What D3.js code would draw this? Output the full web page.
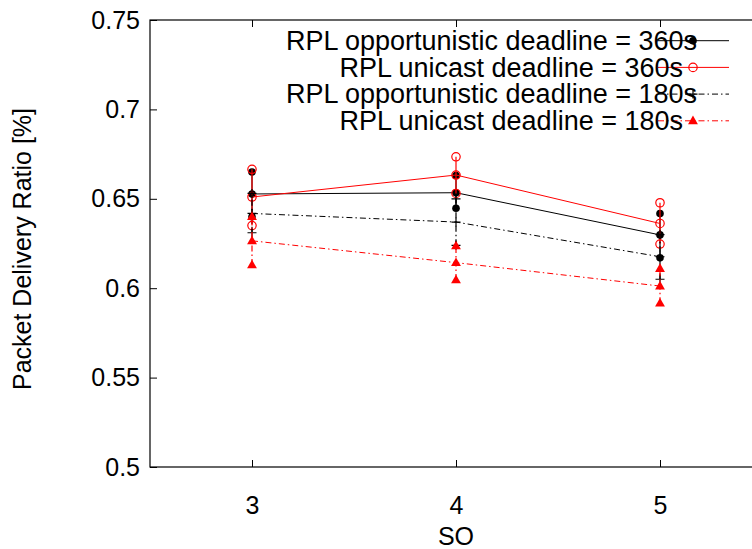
<!DOCTYPE html>
<html>
<head>
<meta charset="utf-8">
<script src="https://cdn.jsdelivr.net/npm/d3@7/dist/d3.min.js"></script>
<style>
  body { margin: 0; background: #fff; }
  svg { display: block; font-family: "Liberation Sans", Arial, Helvetica, sans-serif; }
</style>
</head>
<body>
<script>
// SO values on the x axis
let so = [3, 4, 5];

// packet delivery ratio: [low, mean, high] per SO value
let oppDl360 = [[0.640, 0.6527, 0.665], [0.6447, 0.6534, 0.663], [0.617, 0.6298, 0.6418]];
let uniDl360 = [[0.635, 0.651, 0.6665], [0.653, 0.6633, 0.6735], [0.6247, 0.6362, 0.6478]];
let oppDl180 = [[0.631, 0.6418, 0.653], [0.624, 0.637, 0.650], [0.605, 0.6176, 0.630]];
let uniDl180 = [[0.613, 0.6265, 0.640], [0.6046, 0.6143, 0.6236], [0.5916, 0.6012, 0.611]];

let seriesNames = ['RPL opportunistic deadline = 360s', 'RPL unicast deadline = 360s',
                   'RPL opportunistic deadline = 180s', 'RPL unicast deadline = 180s'];

let yTicks = [0.5, 0.55, 0.6, 0.65, 0.7, 0.75];
let yTickLabels = ['0.5', '0.55', '0.6', '0.65', '0.7', '0.75'];
let xTicks = [3, 4, 5];
let xTickLabels = ['3', '4', '5'];

let width = 752, height = 549;
let plotLeft = 150, plotRight = 762, plotTop = 20, plotBottom = 467;

let x = d3.scaleLinear().domain([2.5, 5.5]).range([plotLeft, plotRight]);
let y = d3.scaleLinear().domain([0.5, 0.75]).range([plotBottom, plotTop]);

let svg = d3.select('body').append('svg')
            .attr('width', width)
            .attr('height', height);

// frame
svg.append('rect')
   .attr('x', plotLeft).attr('y', plotTop)
   .attr('width', plotRight - plotLeft).attr('height', plotBottom - plotTop)
   .attr('fill', 'none').attr('stroke', '#000').attr('stroke-width', 1.2);

let fontSize = 25;

let yAxis = d3.axisLeft(y).tickValues(yTicks).tickSize(-7).tickPadding(10)
              .tickFormat((d, i) => yTickLabels[i]);
let xAxis = d3.axisBottom(x).tickValues(xTicks).tickSize(-7).tickPadding(29)
              .tickFormat((d, i) => xTickLabels[i]);

svg.append('g').attr('transform', 'translate(' + plotLeft + ',0)').call(yAxis);
svg.append('g').attr('transform', 'translate(0,' + plotBottom + ')').call(xAxis);
svg.append('g').attr('transform', 'translate(0,' + plotTop + ')')
   .call(d3.axisTop(x).tickValues(xTicks).tickSize(-7).tickFormat(''));
svg.append('g').attr('transform', 'translate(' + plotRight + ',0)')
   .call(d3.axisRight(y).tickValues(yTicks).tickSize(-7).tickFormat(''));

svg.selectAll('.domain').remove();
svg.selectAll('.tick line').attr('stroke', '#000');
svg.selectAll('.tick text')
   .attr('font-family', '"Liberation Sans", Arial, sans-serif')
   .attr('font-size', fontSize)
   .attr('fill', '#000');

// axis titles
svg.append('text')
   .attr('x', (plotLeft + plotRight) / 2).attr('y', 545)
   .attr('text-anchor', 'middle')
   .attr('font-size', fontSize)
   .text('SO');

svg.append('text')
   .attr('transform', 'translate(31,249) rotate(-90)')
   .attr('text-anchor', 'middle')
   .attr('font-size', fontSize)
   .text('Packet Delivery Ratio [%]');

// series
let styles = [
  { color: '#000', dash: null, marker: 'dot' },
  { color: '#f00', dash: null, marker: 'ring' },
  { color: '#000', dash: '6,3,1.5,3', marker: 'plus' },
  { color: '#f00', dash: '6,3,1.5,3', marker: 'tri' }
];
let allSeries = [oppDl360, uniDl360, oppDl180, uniDl180];

function drawMarker(g, kind, cx, cy, color) {
  if (kind === 'dot') {
    g.append('circle').attr('cx', cx).attr('cy', cy).attr('r', 3.8).attr('fill', color);
  } else if (kind === 'ring') {
    g.append('circle').attr('cx', cx).attr('cy', cy).attr('r', 4.2)
     .attr('fill', 'none').attr('stroke', color).attr('stroke-width', 1.2);
  } else if (kind === 'plus') {
    g.append('path').attr('d', 'M' + (cx - 4.5) + ',' + cy + 'H' + (cx + 4.5) + 'M' + cx + ',' + (cy - 4.5) + 'V' + (cy + 4.5))
     .attr('stroke', color).attr('stroke-width', 1.2);
  } else {
    g.append('path').attr('d', d3.symbol(d3.symbolTriangle, 42)())
     .attr('transform', 'translate(' + cx + ',' + (cy + 0.5) + ')')
     .attr('fill', color);
  }
}

let line = d3.line()
             .x((d, i) => x(so[i]))
             .y((d) => y(d[1]));

allSeries.forEach((data, s) => {
  let st = styles[s];
  let g = svg.append('g');
  g.append('path')
   .attr('d', line(data))
   .attr('fill', 'none')
   .attr('stroke', st.color)
   .attr('stroke-width', 1)
   .attr('stroke-dasharray', st.dash);
  g.selectAll('line.err')
   .data(data)
   .enter()
   .append('line')
   .attr('class', 'err')
   .attr('x1', (d, i) => x(so[i])).attr('x2', (d, i) => x(so[i]))
   .attr('y1', (d) => y(d[0])).attr('y2', (d) => y(d[2]))
   .attr('stroke', st.color)
   .attr('stroke-width', 1.2)
   .attr('stroke-dasharray', st.dash);
  data.forEach((d, i) => {
    d.forEach((v) => drawMarker(g, st.marker, x(so[i]), y(v), st.color));
  });
});

// legend
let legendRow = 26.7, legendTop = 40.7;
let legendTextEnd = [697, 683, 697, 683];
let legend = svg.append('g');
seriesNames.forEach((name, i) => {
  let cy = legendTop + i * legendRow;
  legend.append('line')
        .attr('x1', 658).attr('x2', 729)
        .attr('y1', cy).attr('y2', cy)
        .attr('stroke', styles[i].color)
        .attr('stroke-width', 1)
        .attr('stroke-dasharray', styles[i].dash);
  drawMarker(legend, styles[i].marker, 693, cy, styles[i].color);
  legend.append('text')
        .attr('x', legendTextEnd[i]).attr('y', cy + 9.3)
        .attr('text-anchor', 'end')
        .attr('font-size', 27)
        .attr('fill', '#000')
        .text(name);
});
</script>
</body>
</html>
